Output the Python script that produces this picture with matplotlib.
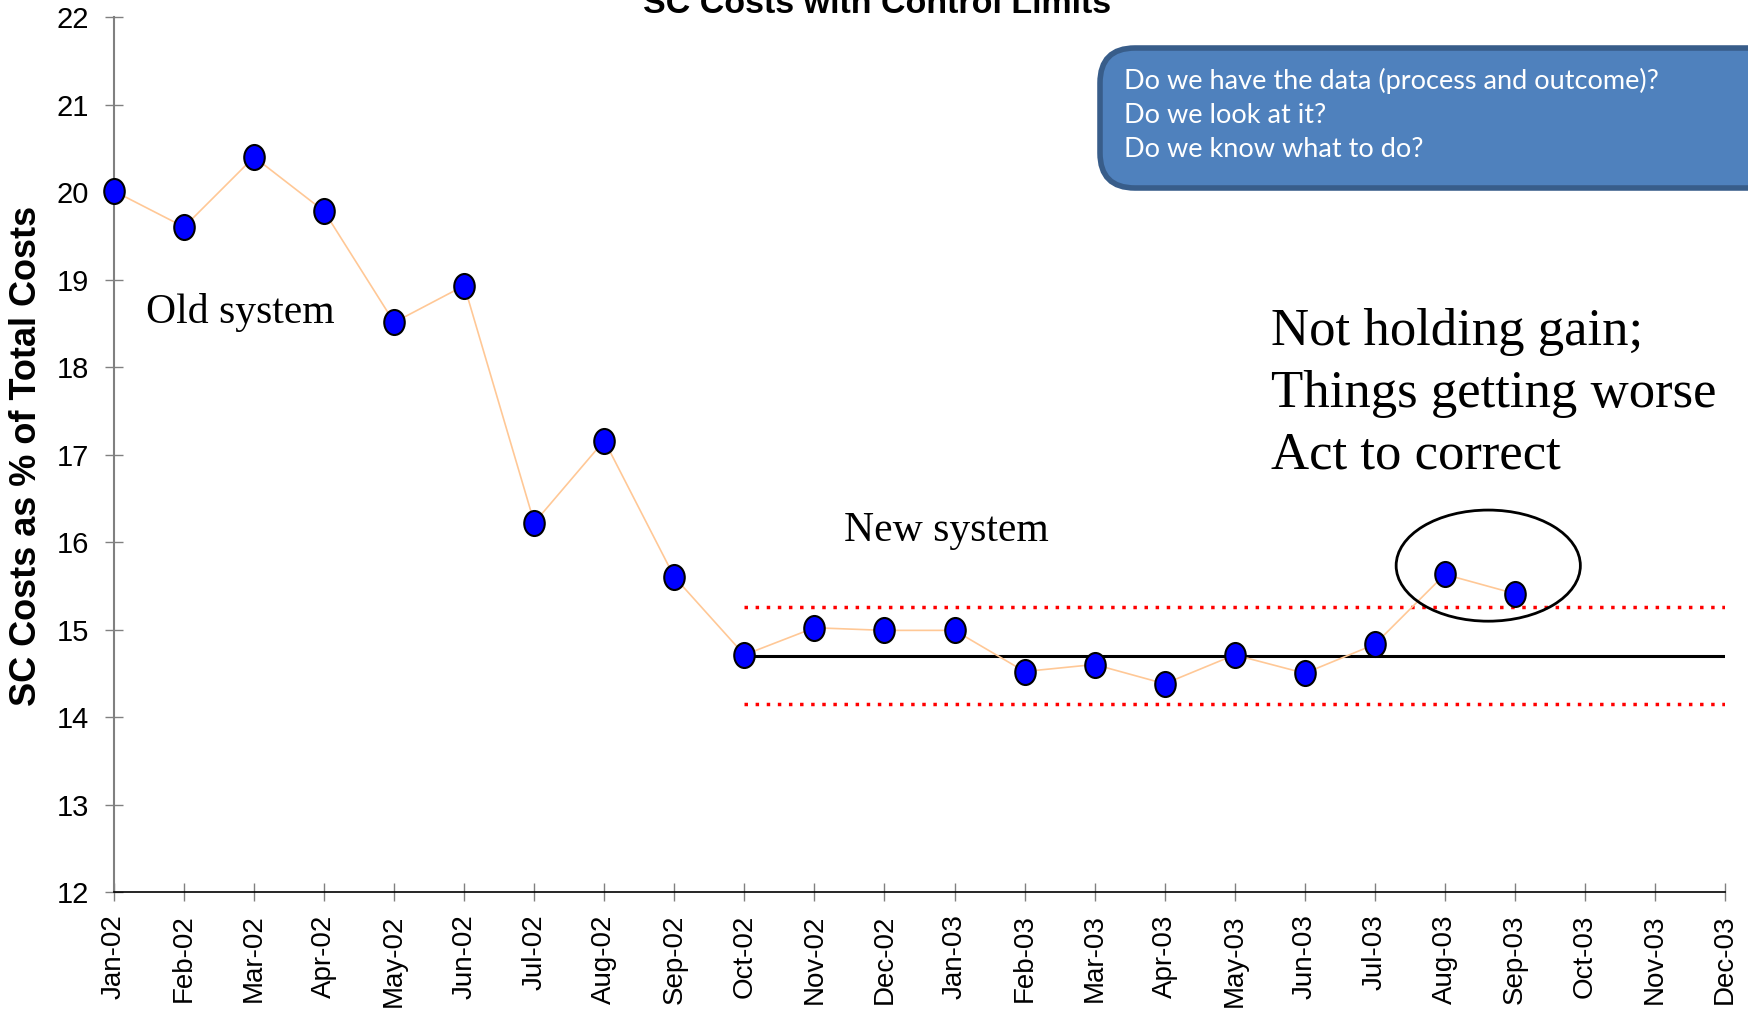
import numpy as np
import matplotlib
matplotlib.use("Agg")
import matplotlib.pyplot as plt
from matplotlib.path import Path
from matplotlib.patches import Ellipse, FancyBboxPatch

months = ["Jan-02", "Feb-02", "Mar-02", "Apr-02", "May-02", "Jun-02", "Jul-02", "Aug-02",
          "Sep-02", "Oct-02", "Nov-02", "Dec-02", "Jan-03", "Feb-03", "Mar-03", "Apr-03",
          "May-03", "Jun-03", "Jul-03", "Aug-03", "Sep-03", "Oct-03", "Nov-03", "Dec-03"]
costs = [20.01, 19.60, 20.40, 19.78, 18.51, 18.93, 16.22, 17.16, 15.60, 14.71, 15.02, 14.99,
         14.99, 14.52, 14.60, 14.38, 14.71, 14.50, 14.83, 15.63, 15.41]
center_line = 14.70
ucl = 15.26
lcl = 14.15
limits_start = "Oct-02"
limits_end = "Dec-03"

plt.rcParams['font.family'] = ['Liberation Sans', 'DejaVu Sans']

W, H = 1748, 1010
fig = plt.figure(figsize=(W / 100, H / 100), dpi=100)
ax = fig.add_axes([114 / W, 1 - 892 / H, (1725 - 114) / W, (892 - 17) / H])

x = np.arange(len(costs))
i0 = months.index(limits_start)
i1 = months.index(limits_end)

# ellipse-shaped markers (slightly taller than wide)
circ = Path.unit_circle()
ell = Path(circ.vertices * np.array([0.82, 1.0]), circ.codes)

ax.plot(x, costs, color="#FFC896", lw=1.2, zorder=2)
ax.plot([i0, i1], [center_line, center_line], color="black", lw=2.2, zorder=1)
ax.plot([i0, i1], [ucl, ucl], color="red", lw=2.5, ls=(0, (1, 2.2)), zorder=1)
ax.plot([i0, i1], [lcl, lcl], color="red", lw=2.5, ls=(0, (1, 2.2)), zorder=1)
ax.plot(x, costs, ls="none", marker=ell, ms=18, mfc="#0000FF", mec="black", mew=1.5,
        zorder=3, clip_on=False)

# circle around the two points above the upper limit
ax.add_patch(Ellipse((19.62, 15.73), 2.63, 1.27, fill=False, ec="black", lw=2, zorder=4))

ax.set_xlim(0, len(months) - 1)
ax.set_ylim(12, 22)
ax.set_xticks(np.arange(len(months)))
ax.set_xticklabels(months, rotation=90)
ax.set_yticks(np.arange(12, 23))
ax.tick_params(axis="both", direction="inout", length=12.5, width=1, color="#808080",
               labelsize=20)
ax.tick_params(axis="y", labelsize=21)
ax.tick_params(axis="x", pad=10)
ax.tick_params(axis="y", pad=12)
for s in ["top", "right"]:
    ax.spines[s].set_visible(False)
ax.spines["left"].set_color("#808080")
ax.spines["left"].set_linewidth(1.5)
ax.spines["bottom"].set_color("black")
ax.spines["bottom"].set_linewidth(1.2)

fig.text(27 / W, 1 - 456 / H, "SC Costs as % of Total Costs", rotation=90, fontsize=26,
         fontweight="bold", ha="center", va="center")

fig.text(877 / W, 1 - 13 / H, "SC Costs with Control Limits", fontsize=24.5,
         fontweight="bold", ha="center", va="baseline")

serif = "Liberation Serif"
fig.text(146 / W, 1 - 312 / H, "Old system", fontsize=30, family=serif, va="center")
fig.text(844 / W, 1 - 531 / H, "New system", fontsize=30, family=serif, va="center")
fig.text(1271 / W, 1 - 394 / H, "Not holding gain;\nThings getting worse\nAct to correct",
         fontsize=38, family=serif, va="center", linespacing=1.37)

box = FancyBboxPatch((1100 / W, 1 - 188 / H), 700 / W, 140 / H,
                     boxstyle="round,pad=0,rounding_size=0.02",
                     transform=fig.transFigure, fc="#4F81BD", ec="#385D8A", lw=4,
                     clip_on=False, mutation_aspect=W / H)
fig.patches.append(box)
fig.text(1124 / W, 1 - 115 / H, "Do we have the data (process and outcome)?\nDo we look at it?\nDo we know what to do?",
         fontsize=19.5, family="Lato", color="white", va="center", linespacing=1.46)

fig.savefig("out.png", dpi=100)
